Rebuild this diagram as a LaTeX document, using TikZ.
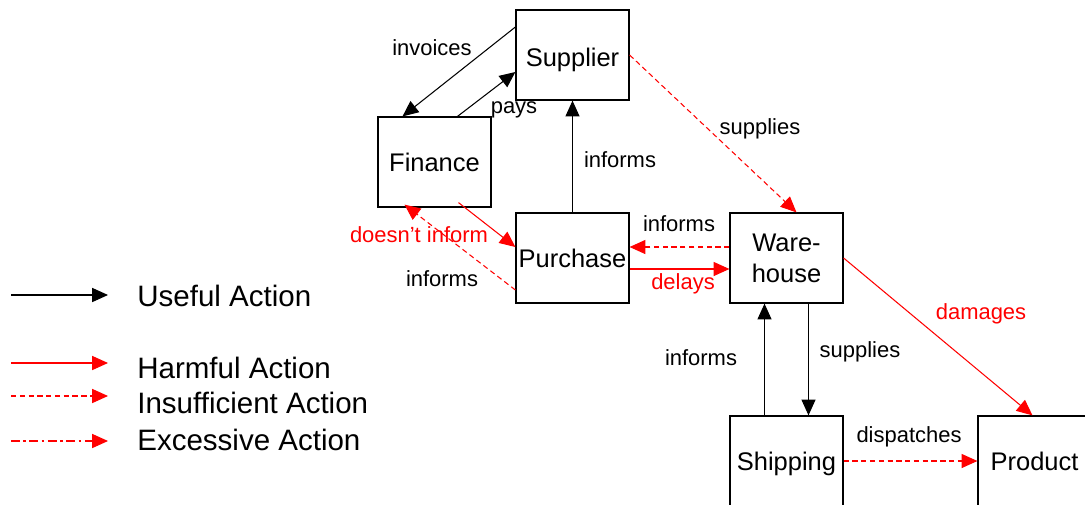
\documentclass[tikz,border=0pt]{standalone}
\usepackage{fontspec}
\setmainfont{Liberation Sans}
\usetikzlibrary{arrows.meta,calc}

\begin{document}
\begin{tikzpicture}[x=0.02cm,y=-0.02cm,
  box/.style={draw,line width=0.7pt,minimum width=2.26cm,minimum height=1.8cm,inner sep=0pt,align=center,font=\fontsize{14.5}{17.5}\selectfont},
  lbl/.style={font=\fontsize{12.5}{15}\selectfont,inner sep=1pt},
  legtext/.style={anchor=base west,font=\fontsize{16.8}{20}\selectfont,inner sep=0pt},
  act/.style={line width=0.6pt,-{Triangle[length=9pt,width=8pt]}},
  useful/.style={act,black},
  harmful/.style={act,red},
  insufficient/.style={act,red,dash pattern=on 3pt off 2pt},
  excessive/.style={act,red,dash pattern=on 5pt off 2pt on 1.5pt off 2pt}]
\useasboundingbox (0,0) rectangle (1085,504);
\clip (0,0) rectangle (1085,504);
\node[box] (supplier) at (572.5,55) {\raisebox{-2.8pt}[\height][\depth]{Supplier}};
\node[box] (finance) at (434.5,162) {Finance};
\node[box] (purchase) at (572.5,258) {Purchase};
\node[box] (warehouse) at (786.5,258) {Ware-\\house};
\node[box] (shipping) at (786.5,461) {\raisebox{-1.4pt}[\height][\depth]{Shipping}};
\node[box] (product) at (1034.5,461) {Product};
\draw[useful] ($(supplier.west)+(0,-28)$) -- ($(finance.north)+(-32,0)$);
\draw[useful] ($(finance.north)+(23,0)$) -- ($(supplier.west)+(0,17)$);
\draw[useful] (purchase.north) -- (supplier.south);
\draw[harmful] ($(finance.south)+(24,-5)$) -- ($(purchase.west)+(0,-11)$);
\draw[insufficient] ($(purchase.west)+(0,32)$) -- ($(finance.south)+(-30,-3)$);
\draw[insufficient] ($(warehouse.west)+(0,-11)$) -- ($(purchase.east)+(0,-11)$);
\draw[harmful] ($(purchase.east)+(0,11)$) -- ($(warehouse.west)+(0,11)$);
\draw[insufficient] (supplier.east) -- ($(warehouse.north)+(10,0)$);
\draw[harmful] (warehouse.east) -- ($(product.north)+(-2,0)$);
\draw[useful] ($(shipping.north)+(-22,0)$) -- ($(warehouse.south)+(-22,0)$);
\draw[useful] ($(warehouse.south)+(22,0)$) -- ($(shipping.north)+(22,0)$);
\draw[insufficient] (shipping.east) -- (product.west);
\node[lbl] (invoices) at (432,48) {invoices};
\node[lbl] (pays) at (514,110) {pays};
\node[lbl] (informsup) at (620,160) {informs};
\node[lbl] (suppliesup) at (760,129) {supplies};
\node[lbl] (informsware) at (679,224) {informs};
\node[lbl,red] (noinform) at (419,235) {doesn’t inform};
\node[lbl] (informsfin) at (442,279) {informs};
\node[lbl,red] (delays) at (683,284) {delays};
\node[lbl,red] (damages) at (981,314) {damages};
\node[lbl] (informsship) at (701,358) {informs};
\node[lbl] (suppliesdown) at (860,352) {supplies};
\node[lbl] (dispatches) at (909,437) {dispatches};
\coordinate (u1) at (11,295); \coordinate (u2) at (108,295);
\coordinate (h1) at (11,363); \coordinate (h2) at (108,363);
\coordinate (i1) at (11,396); \coordinate (i2) at (108,396);
\coordinate (e1) at (11,441); \coordinate (e2) at (108,441);
\draw[useful] (u1) -- (u2);
\draw[harmful] (h1) -- (h2);
\draw[insufficient] (i1) -- (i2);
\draw[excessive] (e1) -- (e2);
\node[legtext] (leguseful) at (137,306) {Useful Action};
\node[legtext] (legharmful) at (137,378) {Harmful Action};
\node[legtext] (leginsuff) at (137,413) {Insufficient Action};
\node[legtext] (legexcess) at (137,450) {Excessive Action};
\end{tikzpicture}
\end{document}
